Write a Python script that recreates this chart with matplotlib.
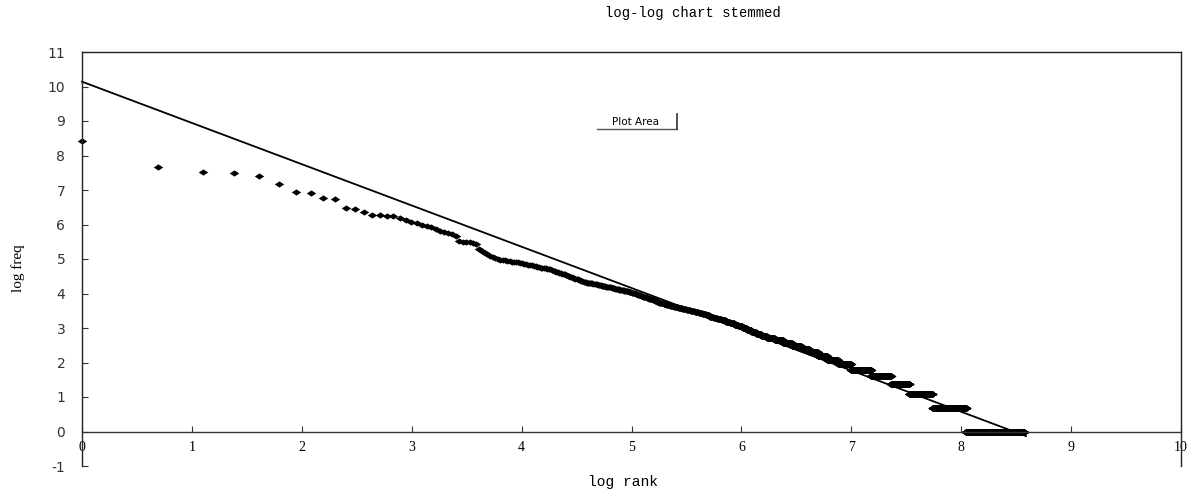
import matplotlib
matplotlib.use('Agg')
import matplotlib.pyplot as plt
from matplotlib.path import Path
from matplotlib.lines import Line2D
import numpy as np

plt.rcParams['axes.unicode_minus'] = False

# word frequencies of the most frequent words (rank 1..100)
head_freq = [4590, 2120, 1860, 1790, 1650, 1300, 1020, 1000, 865, 845,
             645, 626, 584, 534, 532, 523, 518, 488, 455, 428,
             420, 395, 388, 380, 358, 330, 320, 314, 305, 287,
             250, 245, 242, 240, 235, 226, 200, 189, 179, 171,
             162, 158, 153, 148, 145, 144, 143, 141, 140, 138,
             137, 136, 135, 133, 132, 129, 127, 125, 124, 123,
             121, 120, 118, 117, 116, 115, 114, 113, 112, 111,
             110, 108, 106, 104, 102, 101, 99, 98, 97, 96,
             95, 93, 91, 90, 89, 87, 86, 85, 84, 83,
             82, 81, 80, 79, 78, 77, 76, 76, 75, 75]

# frequency spectrum for the rest: frequency -> number of words with it
spec_freq = list(range(74, 0, -1))
spec_count = [3, 1, 2, 2, 1, 3, 3, 2, 3, 3,
              4, 3, 2, 3, 3, 3, 3, 4, 3, 2,
              3, 3, 2, 3, 3, 3, 3, 3, 4, 3,
              4, 3, 4, 4, 5, 7, 8, 8, 9, 9,
              9, 10, 10, 9, 10, 9, 11, 11, 13, 13,
              14, 15, 13, 16, 16, 18, 20, 22, 25, 38,
              43, 51, 56, 51, 61, 73, 92, 119, 219, 261,
              289, 434, 820, 2155]

# linear trendline
trend_slope = -1.196
trend_intercept = 10.14

x_ticks = list(range(0, 11))
y_ticks = list(range(-1, 12))

freqs = np.array(head_freq + [f for f, n in zip(spec_freq, spec_count) for _ in range(n)], dtype=float)
ranks = np.arange(1, len(freqs) + 1)
log_rank = np.log(ranks)
log_freq = np.log(freqs)

fig = plt.figure(figsize=(11.96, 4.92), dpi=100)
ax = fig.add_axes([82 / 1196, 1 - 466 / 492, (1181 - 82) / 1196, (466 - 52) / 492])

diamond = Path([(-1, 0), (0, 0.66), (1, 0), (0, -0.66), (-1, 0)],
               [Path.MOVETO, Path.LINETO, Path.LINETO, Path.LINETO, Path.CLOSEPOLY])
ax.plot(log_rank, log_freq, linestyle='none', marker=diamond, markersize=6.8,
        color='black', markeredgewidth=0, clip_on=False)

tx = np.array([log_rank.min(), log_rank.max() + 0.02])
ax.plot(tx, trend_slope * tx + trend_intercept, color='black', lw=1.3, clip_on=False)

ax.set_xlim(0, 10)
ax.set_ylim(-1, 11)
ax.set_xticks(x_ticks)
ax.set_yticks(y_ticks)

ax.spines['bottom'].set_position(('data', 0))
ax.spines['bottom'].set_linewidth(1.0)
ax.spines['bottom'].set_color('#333333')
for s in ['left', 'right', 'top']:
    ax.spines[s].set_linewidth(1.0)
    ax.spines[s].set_color('#222222')

ax.tick_params(axis='x', direction='in', length=4, pad=7, labelsize=10,
               color='#333333')
ax.tick_params(axis='y', direction='in', length=4, pad=12, labelsize=10,
               color='#333333')
for lab in ax.get_xticklabels():
    lab.set_fontfamily('Liberation Serif')
for lab in ax.get_yticklabels():
    lab.set_fontfamily('DejaVu Sans')
    lab.set_color('#333333')

fig.text(693 / 1196, 1 - 13 / 492, 'log-log chart stemmed', ha='center', va='center',
         fontfamily='Liberation Mono', fontsize=10)
fig.text(623 / 1196, 1 - 482 / 492, 'log rank', ha='center', va='center',
         fontfamily='Liberation Mono', fontsize=10.5)
fig.text(18 / 1196, 1 - 268 / 492, 'log freq', ha='center', va='center', rotation=90,
         fontfamily='Liberation Serif', fontsize=11)

# "Plot Area" tooltip
fig.text(636 / 1196, 1 - 122 / 492, 'Plot Area', ha='center', va='center',
         fontfamily='DejaVu Sans', fontsize=7.5)
fig.add_artist(Line2D([597 / 1196, 677 / 1196], [1 - 129 / 492, 1 - 129 / 492],
                      color='#555555', lw=1))
fig.add_artist(Line2D([677 / 1196, 677 / 1196], [1 - 114 / 492, 1 - 129 / 492],
                      color='#333333', lw=1.2))

fig.savefig('out.png', dpi=100)
